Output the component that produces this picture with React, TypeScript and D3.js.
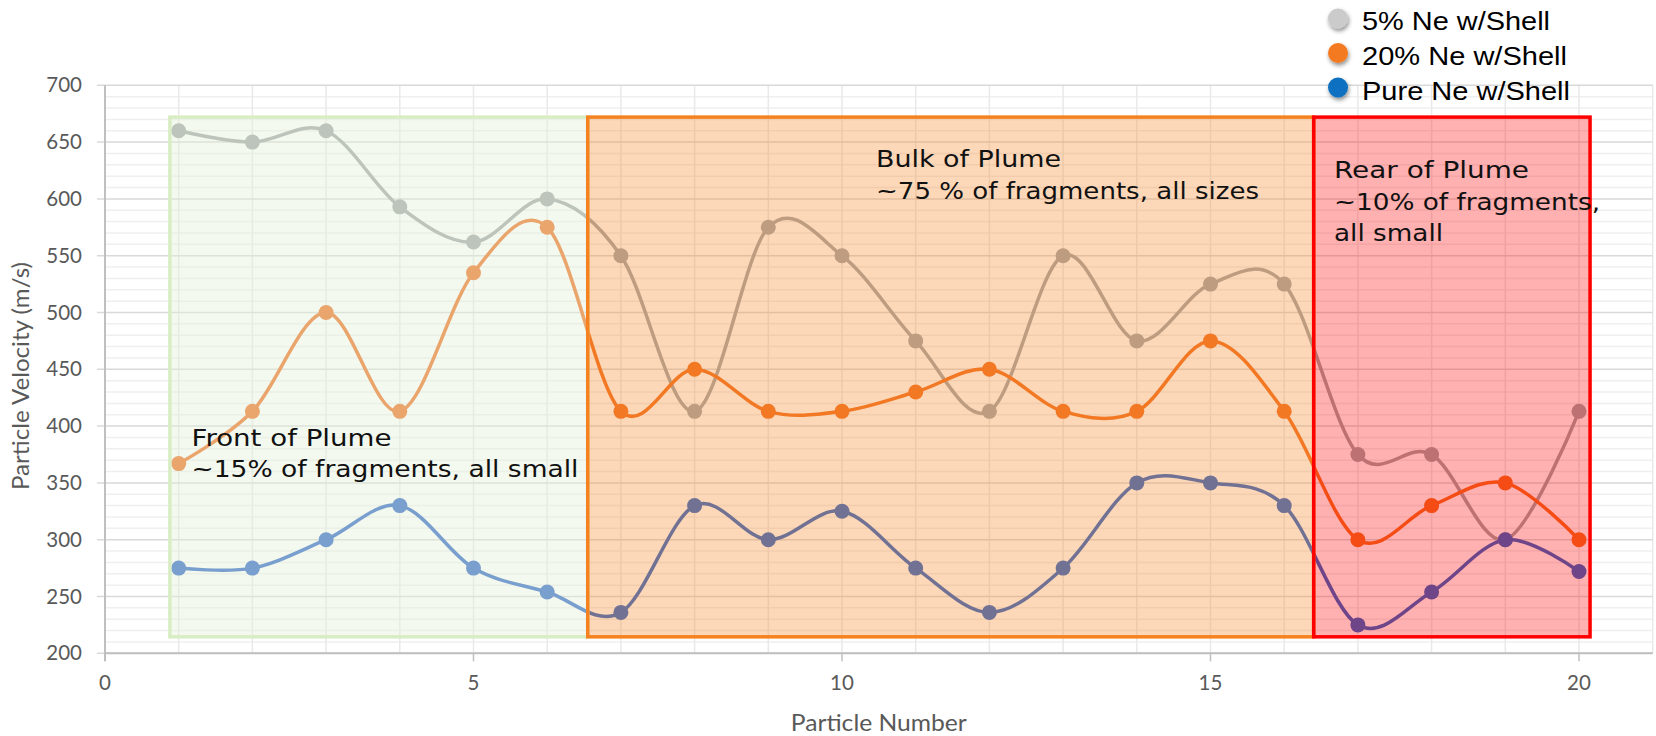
import React from "react";
import * as d3 from "d3";

const particles = [1, 2, 3, 4, 5, 6, 7, 8, 9, 10, 11, 12, 13, 14, 15, 16, 17, 18, 19, 20];
const ne5 = [660, 650, 660, 593, 562, 600, 550, 413, 575, 550, 475, 413, 550, 475, 525, 525, 375, 375, 300, 413];
const ne20 = [367, 413, 500, 413, 535, 575, 413, 450, 413, 413, 430, 450, 413, 413, 475, 413, 300, 330, 350, 300];
const nePure = [275, 275, 300, 330, 275, 254, 236, 330, 300, 325, 275, 236, 275, 350, 350, 330, 225, 254, 300, 272];

const xTicks = [0, 5, 10, 15, 20];
const yTicks = [200, 250, 300, 350, 400, 450, 500, 550, 600, 650, 700];

const seriesNames = ["5% Ne w/Shell", "20% Ne w/Shell", "Pure Ne w/Shell"];

const regions = [
  { name: "front", x0: 0.88, x1: 6.55, y0: 214.5, y1: 672 },
  { name: "bulk", x0: 6.55, x1: 16.4, y0: 214.5, y1: 672 },
  { name: "rear", x0: 16.4, x1: 20.15, y0: 214.5, y1: 672 },
];

const frontText = ["Front of Plume", "~15% of fragments, all small"];
const bulkText = ["Bulk of Plume", "~75 % of fragments, all sizes"];
const rearText = ["Rear of Plume", "~10% of fragments,", "all small"];

export default function App() {
  const W = 1656;
  const H = 736;
  const unit = 73.7;
  const x = d3.scaleLinear().domain([0, 21]).range([105, 105 + unit * 21]);
  const y = d3.scaleLinear().domain([200, 700]).range([653.3, 85.3]);

  const line = d3
    .line<number>()
    .x((_, i) => x(particles[i]))
    .y((d) => y(d))
    .curve(d3.curveCatmullRom.alpha(0));

  const series = [
    { data: ne5, color: "rgb(160,164,167)", legend: "#cbcbcb" },
    { data: ne20, color: "rgb(240,110,30)", legend: "#f47a20" },
    { data: nePure, color: "rgb(45,100,198)", legend: "#0a70c0" },
  ];

  const minor = d3.range(200, 701, 10).filter((v) => v % 50 !== 0);
  const vgrid = d3.range(1, 22, 1);

  const regionStyles: Record<string, { fill: string; stroke: string }> = {
    front: { fill: "rgba(226,240,217,0.42)", stroke: "#d8edc4" },
    bulk: { fill: "rgba(246,140,50,0.34)", stroke: "#f5821f" },
    rear: { fill: "rgba(255,0,0,0.31)", stroke: "#ff0000" },
  };

  const annFont = "'DejaVu Sans', sans-serif";
  const axisFont = "Lato, 'Open Sans', sans-serif";

  return (
    <svg
      width={W}
      height={H}
      style={{ position: "absolute", left: 0, top: 0, background: "#fff" }}
    >
      <defs>
        <filter id="shadow" x="-50%" y="-50%" width="200%" height="200%">
          <feDropShadow dx="1" dy="2.5" stdDeviation="2" floodColor="#000" floodOpacity="0.45" />
        </filter>
      </defs>
      {minor.map((v) => (
        <line key={"m" + v} x1={x(0)} x2={x(21)} y1={y(v)} y2={y(v)} stroke="#efefef" strokeWidth={1.5} />
      ))}
      {vgrid.map((v) => (
        <line key={"v" + v} x1={x(v)} x2={x(v)} y1={y(700)} y2={y(200)} stroke="#e9e9e9" strokeWidth={1.5} />
      ))}
      {yTicks.map((v) => (
        <line key={"M" + v} x1={x(0) - 8} x2={x(21)} y1={y(v)} y2={y(v)} stroke="#d9d9d9" strokeWidth={1.5} />
      ))}
      <line x1={x(0)} x2={x(0)} y1={y(700)} y2={y(200) + 8} stroke="#bfbfbf" strokeWidth={2} />
      <line x1={x(0)} x2={x(21)} y1={y(200)} y2={y(200)} stroke="#bfbfbf" strokeWidth={2} />
      {xTicks.map((v) => (
        <line key={"xt" + v} x1={x(v)} x2={x(v)} y1={y(200)} y2={y(200) + 8} stroke="#bfbfbf" strokeWidth={1.5} />
      ))}
      {yTicks.map((v) => (
        <text key={"yl" + v} x={82} y={y(v)} dy="0.35em" textAnchor="end" fontFamily={axisFont} fontSize={20.5} fill="#595959">
          {v}
        </text>
      ))}
      {xTicks.map((v) => (
        <text key={"xl" + v} x={x(v)} y={683} dy="0.35em" textAnchor="middle" fontFamily={axisFont} fontSize={20.5} fill="#595959">
          {v}
        </text>
      ))}
      <text
        x={(x(0) + x(21)) / 2 - 88}
        y={723}
        dy="0.35em"
        fontFamily={axisFont}
        fontSize={23}
        fill="#595959"
        textLength={176}
        lengthAdjust="spacingAndGlyphs"
      >
        Particle Number
      </text>
      <text
        transform={`translate(21,${376 + 114}) rotate(-90)`}
        dy="0.35em"
        fontFamily={axisFont}
        fontSize={23}
        fill="#595959"
        textLength={228}
        lengthAdjust="spacingAndGlyphs"
      >
        Particle Velocity (m/s)
      </text>

      {series.map((s, si) => (
        <g key={"s" + si}>
          <path d={line(s.data) || ""} fill="none" stroke={s.color} strokeWidth={3.5} />
          {s.data.map((v, i) => (
            <circle key={i} cx={x(particles[i])} cy={y(v)} r={7.5} fill={s.color} />
          ))}
        </g>
      ))}

      {regions.map((r) => (
        <rect
          key={r.name}
          x={x(r.x0)}
          y={y(r.y1)}
          width={x(r.x1) - x(r.x0)}
          height={y(r.y0) - y(r.y1)}
          fill={regionStyles[r.name].fill}
          stroke={regionStyles[r.name].stroke}
          strokeWidth={3.5}
        />
      ))}

      <g fontFamily={annFont} fontSize={23.5} fill="#111">
        <text x={191.5} y={446} textLength={200} lengthAdjust="spacingAndGlyphs">{frontText[0]}</text>
        <text x={191.5} y={477} textLength={387} lengthAdjust="spacingAndGlyphs">{frontText[1]}</text>
        <text x={876} y={167} textLength={185} lengthAdjust="spacingAndGlyphs">{bulkText[0]}</text>
        <text x={876} y={199} textLength={383} lengthAdjust="spacingAndGlyphs">{bulkText[1]}</text>
        <text x={1334} y={178} textLength={195} lengthAdjust="spacingAndGlyphs">{rearText[0]}</text>
        <text x={1334} y={210} textLength={266} lengthAdjust="spacingAndGlyphs">{rearText[1]}</text>
        <text x={1334} y={241} textLength={109} lengthAdjust="spacingAndGlyphs">{rearText[2]}</text>
      </g>

      {seriesNames.map((n, i) => (
        <g key={"lg" + i}>
          <circle cx={1338} cy={18.5 + i * 34.5} r={10} fill={series[i].legend} filter="url(#shadow)" />
          <text
            x={1362}
            y={30 + i * 35}
            fontFamily="'Liberation Sans', Arial, sans-serif"
            fontSize={26}
            fill="#000"
            textLength={[188, 205, 208][i]}
            lengthAdjust="spacingAndGlyphs"
          >
            {n}
          </text>
        </g>
      ))}
    </svg>
  );
}
